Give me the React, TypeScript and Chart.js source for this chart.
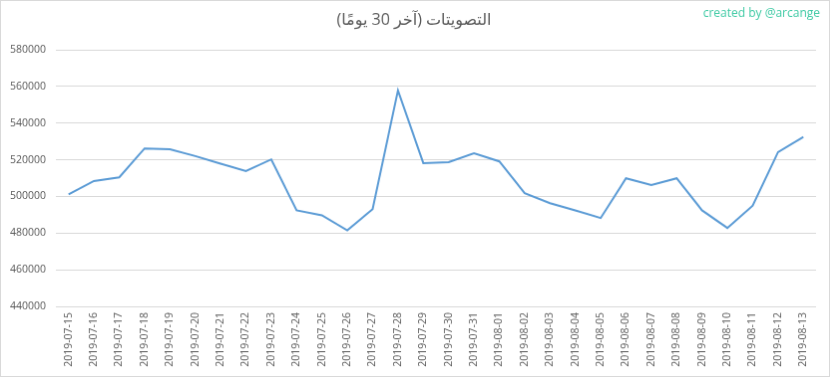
import React, { useEffect, useRef } from "react";
import { Chart, registerables } from "chart.js";

Chart.register(...registerables);

const dates = [
  "2019-07-15", "2019-07-16", "2019-07-17", "2019-07-18", "2019-07-19",
  "2019-07-20", "2019-07-21", "2019-07-22", "2019-07-23", "2019-07-24",
  "2019-07-25", "2019-07-26", "2019-07-27", "2019-07-28", "2019-07-29",
  "2019-07-30", "2019-07-31", "2019-08-01", "2019-08-02", "2019-08-03",
  "2019-08-04", "2019-08-05", "2019-08-06", "2019-08-07", "2019-08-08",
  "2019-08-09", "2019-08-10", "2019-08-11", "2019-08-12", "2019-08-13",
];

const votes = [
  501100, 508400, 510400, 526200, 525700,
  522000, 517900, 513800, 520200, 492400,
  489700, 481500, 493000, 557800, 518200,
  518700, 523600, 519100, 501800, 496300,
  492400, 488200, 509900, 506200, 509900,
  492400, 482800, 495000, 524200, 532400,
];

const yMin = 440000;
const yMax = 580000;
const yStep = 20000;

const titleText = "التصويتات (آخر 30 يومًا)";
const watermark = "created by @arcange";

export default function App() {
  const ref = useRef<HTMLCanvasElement | null>(null);

  useEffect(() => {
    if (!ref.current) return;
    const textPlugin = {
      id: "texts",
      afterDraw(chart: any) {
        const ctx = chart.ctx;
        ctx.save();
        ctx.direction = "rtl";
        ctx.font = "16px 'Open Sans', 'DejaVu Sans', sans-serif";
        ctx.fillStyle = "#595959";
        ctx.textAlign = "center";
        ctx.textBaseline = "middle";
        ctx.fillText(titleText, 414, 19);

        ctx.direction = "ltr";
        ctx.font = "12px 'Open Sans', sans-serif";
        ctx.fillStyle = "#3cc9a3";
        ctx.textAlign = "right";
        ctx.fillText(watermark, 821, 13);
        ctx.restore();
      },
    };
    const chart = new Chart(ref.current, {
      type: "line",
      data: {
        labels: dates,
        datasets: [
          {
            data: votes,
            borderColor: "#5b9bd5",
            borderWidth: 2,
            pointRadius: 0,
            tension: 0,
            fill: false,
          },
        ],
      },
      options: {
        animation: false,
        responsive: false,
        layout: { padding: { left: 8, right: 13, top: 49, bottom: 4 } },
        plugins: {
          legend: { display: false },
          tooltip: { enabled: false },
          title: { display: false },
        },
        scales: {
          x: {
            offset: true,
            grid: { display: false, drawTicks: false },
            border: { display: false },
            ticks: {
              color: "#595959",
              font: { family: "'Open Sans', sans-serif", size: 10.5 },
              maxRotation: 90,
              minRotation: 90,
              autoSkip: false,
              padding: 6,
            },
            afterFit(scale: any) {
              scale.height = 66;
            },
          },
          y: {
            min: yMin,
            max: yMax,
            grid: { color: "#d9d9d9", drawTicks: false, lineWidth: 1 },
            border: { display: false },
            ticks: {
              stepSize: yStep,
              color: "#595959",
              font: { family: "'Open Sans', sans-serif", size: 10.5 },
              padding: 10,
              callback: (v: any) => String(v),
            },
            afterFit(scale: any) {
              scale.width = 47;
            },
          },
        },
      },
      plugins: [textPlugin],
    });
    return () => chart.destroy();
  }, []);

  return (
    <div style={{ position: "fixed", left: 0, top: 0, width: 832, height: 379, background: "#fff" }}>
      <canvas
        ref={ref}
        width={830}
        height={377}
        style={{ display: "block", border: "1px solid #d9d9d9", width: 830, height: 377 }}
      />
    </div>
  );
}
